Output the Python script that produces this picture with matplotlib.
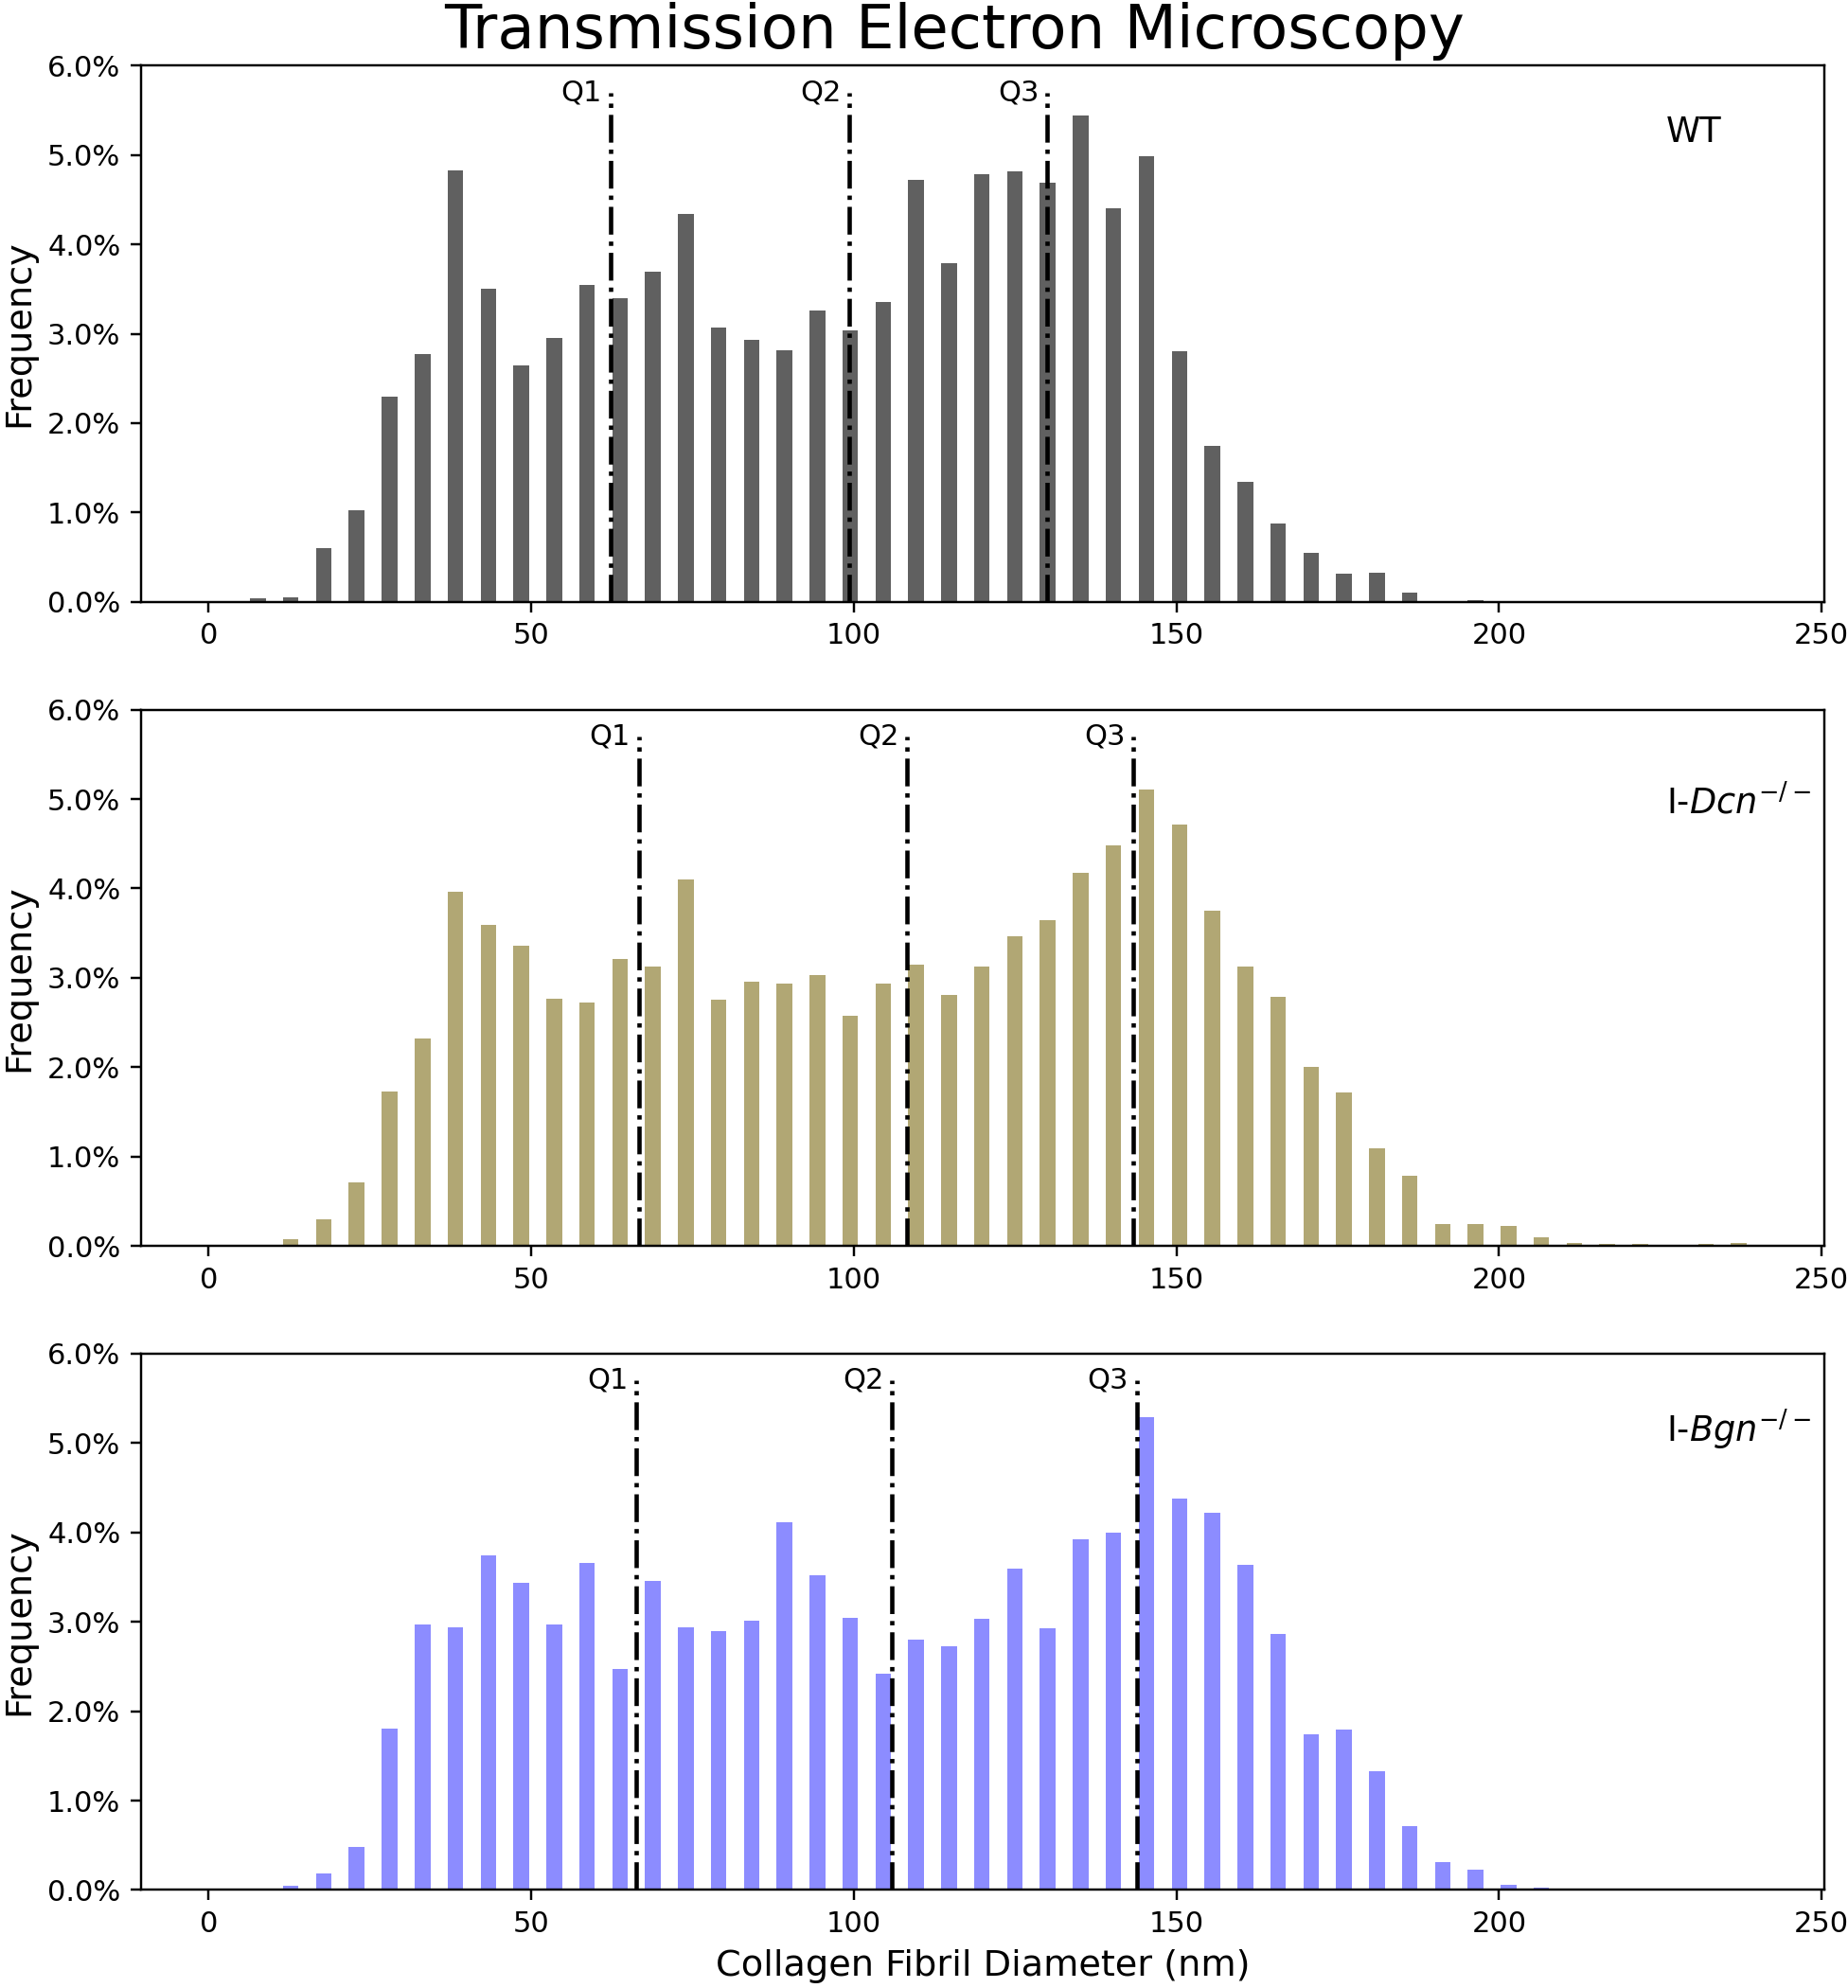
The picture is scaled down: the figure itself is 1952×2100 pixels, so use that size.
import numpy as np
import matplotlib.pyplot as plt
from matplotlib.ticker import FuncFormatter

# 50 bins of 5.1 nm from 0 to 255 nm
bin_edges = np.linspace(0, 255, 51)

# frequency (%) per bin
wt = [0, 0.036, 0.052, 0.606, 1.03, 2.30, 2.77, 4.83, 3.50, 2.65,
      2.95, 3.55, 3.40, 3.69, 4.34, 3.07, 2.93, 2.81, 3.26, 3.04,
      3.35, 4.72, 3.79, 4.79, 4.82, 4.69, 5.44, 4.40, 4.99, 2.80,
      1.745, 1.347, 0.88, 0.546, 0.311, 0.331, 0.108, 0, 0.016, 0,
      0, 0, 0, 0, 0, 0, 0, 0, 0, 0]
dcn = [0, 0, 0.072, 0.30, 0.706, 1.728, 2.32, 3.96, 3.595, 3.364,
       2.77, 2.725, 3.21, 3.13, 4.10, 2.753, 2.96, 2.94, 3.03, 2.574,
       2.94, 3.15, 2.81, 3.13, 3.46, 3.647, 4.174, 4.48, 5.11, 4.717,
       3.747, 3.13, 2.79, 2.0, 1.716, 1.097, 0.79, 0.243, 0.243, 0.227,
       0.092, 0.036, 0.02, 0.02, 0, 0.02, 0.036, 0, 0, 0]
bgn = [0, 0, 0.048, 0.18, 0.483, 1.807, 2.97, 2.94, 3.74, 3.44,
       2.97, 3.654, 2.477, 3.462, 2.94, 2.896, 3.016, 4.117, 3.526, 3.047,
       2.421, 2.804, 2.732, 3.03, 3.60, 2.924, 3.925, 3.993, 5.29, 4.384,
       4.224, 3.638, 2.868, 1.747, 1.791, 1.324, 0.718, 0.307, 0.227, 0.06,
       0.024, 0.008, 0, 0, 0, 0, 0, 0, 0, 0]

# quartiles (nm)
wt_q = [62.3, 99.3, 130.0]
dcn_q = [66.65, 108.3, 143.35]
bgn_q = [66.3, 105.9, 143.85]

labels = ['WT', r'I-$Dcn^{-/-}$', r'I-$Bgn^{-/-}$']
colors = ['#606060', '#b1a774', '#8c8cff']
label_y = [0.857, 0.806, 0.836]

series = [wt, dcn, bgn]
quarts = [wt_q, dcn_q, bgn_q]

centers = (bin_edges[:-1] + bin_edges[1:]) / 2
bw = bin_edges[1] - bin_edges[0]

fig, axes = plt.subplots(3, 1, figsize=(1952 / 220, 2100 / 220), dpi=220)
fig.subplots_adjust(left=0.0762, right=0.9872, top=0.967, bottom=0.0493,
                    hspace=0.201)

for ax, vals, q, lab, col, ly in zip(axes, series, quarts, labels, colors, label_y):
    ax.bar(centers, vals, width=bw * 0.475, color=col)
    for i, qv in enumerate(q):
        ax.vlines(qv, 0, 5.7, colors='k', linestyles='-.', linewidth=1.5)
        ax.text(qv - 1.3, 5.7, 'Q%d' % (i + 1), ha='right', va='center',
                fontsize=10)
    ax.text(0.906, ly, lab, transform=ax.transAxes, fontsize=12,
            ha='left', va='baseline')
    ax.set_xlim(-10.5, 250.4)
    ax.set_ylim(0, 6)
    ax.set_xticks([0, 50, 100, 150, 200, 250])
    ax.set_yticks(np.arange(0, 6.1, 1))
    ax.yaxis.set_major_formatter(FuncFormatter(lambda v, p: '%.1f%%' % v))
    ax.tick_params(labelsize=10)
    ax.set_ylabel('Frequency', fontsize=12.5)

axes[0].set_title('Transmission Electron Microscopy', fontsize=21, x=0.483)
axes[2].set_xlabel('Collagen Fibril Diameter (nm)', fontsize=12.5)

fig.savefig('out.png', dpi=220)
